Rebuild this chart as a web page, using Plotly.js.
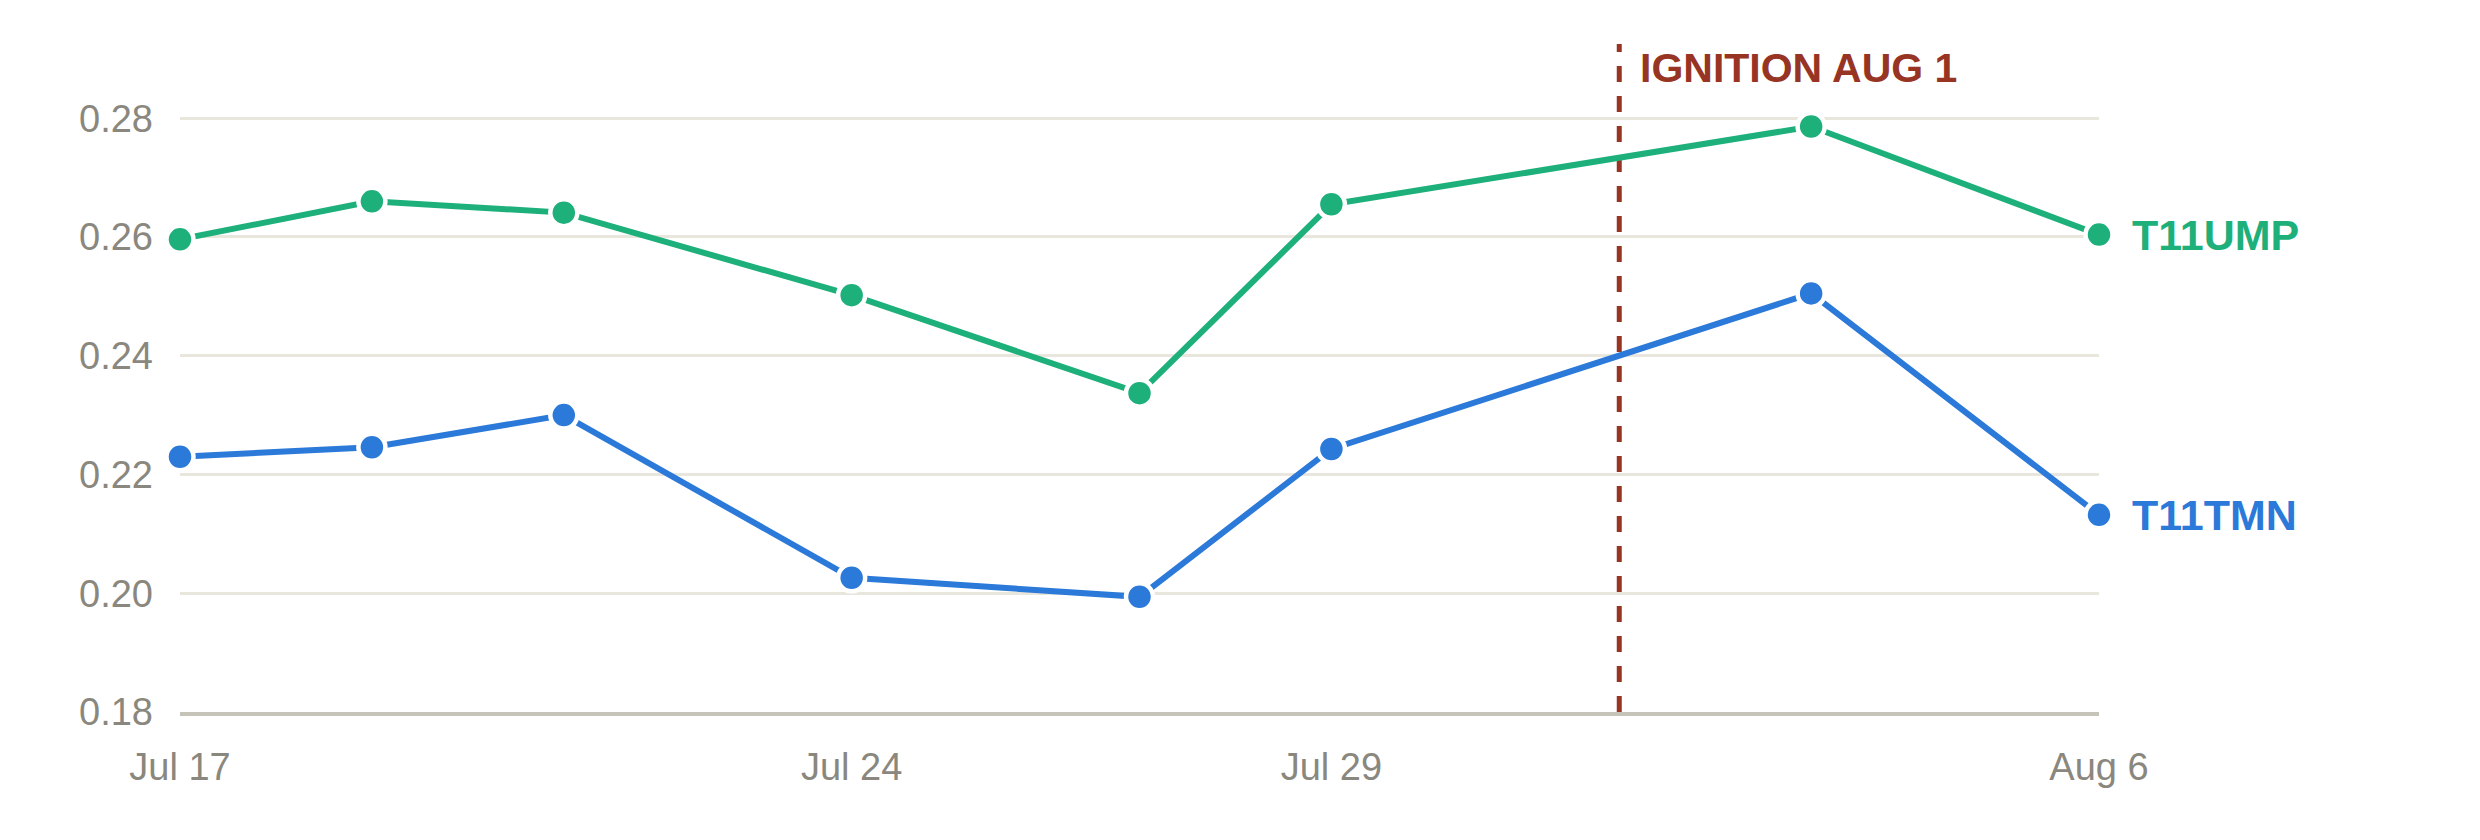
<!DOCTYPE html>
<html>
<head>
<meta charset="utf-8">
<script src="https://cdn.plot.ly/plotly-3.0.1.min.js"></script>
<style>html,body{margin:0;padding:0;background:#fff;}#chart{width:2480px;height:840px;}</style>
</head>
<body>
<div id="chart"></div>
<script>
const dates = ["2024-07-17","2024-07-19","2024-07-21","2024-07-24","2024-07-27","2024-07-29","2024-08-03","2024-08-06"];
const umpName = "T11UMP";
const umpValues = [0.2596, 0.2660, 0.2641, 0.2502, 0.2337, 0.2655, 0.2786, 0.2604];
const tmnName = "T11TMN";
const tmnValues = [0.2230, 0.2246, 0.2300, 0.2026, 0.1994, 0.2243, 0.2505, 0.2132];
const xTickVals = ["2024-07-17","2024-07-24","2024-07-29","2024-08-06"];
const xTickText = ["Jul 17","Jul 24","Jul 29","Aug 6"];
const yTickVals = [0.18, 0.20, 0.22, 0.24, 0.26, 0.28];
const yTickText = ["0.18","0.20","0.22","0.24","0.26","0.28"];
const eventDate = "2024-08-01";
const eventLabel = "IGNITION AUG 1";

const GREEN = "#1db07b";
const BLUE = "#2b79d8";
const RED = "#973423";
const FONT = "Liberation Sans, Arial, Helvetica, sans-serif";

function series(name, vals, color) {
  return {
    type: "scatter", mode: "lines+markers", name: name,
    x: dates, y: vals, cliponaxis: false, hoverinfo: "skip",
    line: {color: color, width: 6},
    marker: {color: color, size: 27, line: {color: "#ffffff", width: 4.5}}
  };
}

const data = [series(umpName, umpValues, GREEN), series(tmnName, tmnValues, BLUE)];

const layout = {
  width: 2480, height: 840,
  margin: {l: 180, r: 381, t: 44, b: 128},
  paper_bgcolor: "#ffffff", plot_bgcolor: "#ffffff",
  showlegend: false,
  font: {family: FONT, color: "#8a877e", size: 38},
  xaxis: {
    type: "date", range: [dates[0], dates[dates.length - 1]],
    tickmode: "array", tickvals: xTickVals, ticktext: xTickText,
    showgrid: false, zeroline: false,
    showline: true, linecolor: "#c6c3b8", linewidth: 3.5,
    ticks: "", ticklabelstandoff: 19,
    tickfont: {family: FONT, size: 38, color: "#8a877e"}
  },
  yaxis: {
    range: [0.18, 0.2925],
    tickmode: "array", tickvals: yTickVals, ticktext: yTickText,
    showgrid: true, gridcolor: "#e9e6de", gridwidth: 3,
    zeroline: false, showline: false,
    ticks: "", ticklabelstandoff: 26,
    tickfont: {family: FONT, size: 38, color: "#8a877e"}
  },
  shapes: [{
    type: "line", xref: "x", yref: "paper", layer: "between",
    x0: eventDate, x1: eventDate, y0: 0, y1: 1,
    line: {color: RED, width: 5, dash: "16px,14px"}
  }],
  annotations: [
    {xref: "x", yref: "paper", x: eventDate, y: 1, xanchor: "left", yanchor: "middle",
     xshift: 19, yshift: -24, showarrow: false, text: "<b>" + eventLabel + "</b>",
     font: {family: FONT, size: 41, color: RED}},
    {xref: "x", yref: "y", x: dates[dates.length - 1], y: umpValues[umpValues.length - 1],
     xanchor: "left", yanchor: "middle", xshift: 31, showarrow: false,
     text: "<b>" + umpName + "</b>", font: {family: FONT, size: 43, color: GREEN}},
    {xref: "x", yref: "y", x: dates[dates.length - 1], y: tmnValues[tmnValues.length - 1],
     xanchor: "left", yanchor: "middle", xshift: 31, showarrow: false,
     text: "<b>" + tmnName + "</b>", font: {family: FONT, size: 43, color: BLUE}}
  ]
};

Plotly.newPlot("chart", data, layout, {staticPlot: true, displayModeBar: false});
</script>
</body>
</html>
